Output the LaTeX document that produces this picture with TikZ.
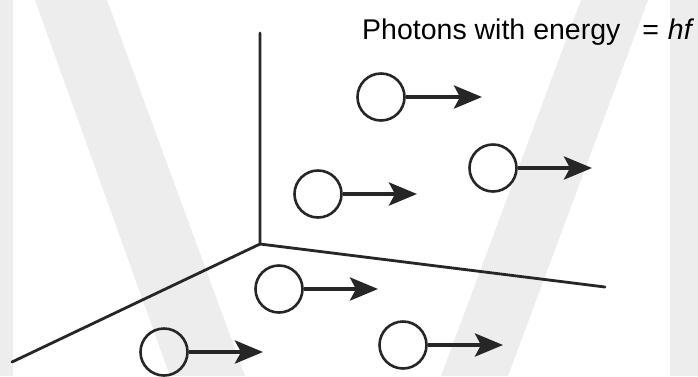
\documentclass[tikz,border=0pt]{standalone}
\usepackage{fontspec}
\setmainfont{Liberation Sans}
\usetikzlibrary{arrows.meta}
\definecolor{wm}{HTML}{EDEDED}
\begin{document}
\begin{tikzpicture}[x=1pt,y=-1pt,
  photon/.style={circle,draw=black!85,line width=2.6pt,minimum size=47pt,inner sep=0pt},
  beam/.style={draw=black!85,line width=4.2pt,-{Stealth[length=28pt,width=23pt,inset=6pt]}},
  axisline/.style={draw=black!85,line width=2.8pt,line cap=round}]
\useasboundingbox (0,0) rectangle (698,376);
\fill[white] (0,0) rectangle (698,376);
% watermark
\fill[wm] (0,0) rectangle (12.5,376);
\fill[wm] (670,0) rectangle (698,376);
\fill[wm] (35,0) -- (107,0) -- (245,376) -- (170,376) -- cycle;
\fill[wm] (581,0) -- (648,0) -- (508,376) -- (441,376) -- cycle;
% axes
\coordinate (o) at (260,244);
\coordinate (top) at (260,33);
\coordinate (right) at (605,287);
\coordinate (left) at (12,362);
\draw[axisline] (top) -- (o) -- (right);
\draw[axisline] (o) -- (left);
% label
\node[anchor=base west,inner sep=0pt,font=\fontsize{28.5}{30}\selectfont] (lbl) at (362,39) {Photons with energy\hspace{14pt} = \hspace{1pt}\textit{hf}};
% photons
\node[photon] (c1) at (381,97) {};
\node[photon] (c2) at (493,168) {};
\node[photon] (c3) at (318,194) {};
\node[photon] (c4) at (279,289) {};
\node[photon] (c5) at (164,352) {};
\node[photon] (c6) at (403,345) {};
\coordinate (t1) at (482,97);
\coordinate (t2) at (592,168);
\coordinate (t3) at (417,194);
\coordinate (t4) at (378,289);
\coordinate (t5) at (263,352);
\coordinate (t6) at (503,345);
\foreach \i in {1,...,6} \draw[beam] (c\i.east) -- (t\i);
\end{tikzpicture}
\end{document}
